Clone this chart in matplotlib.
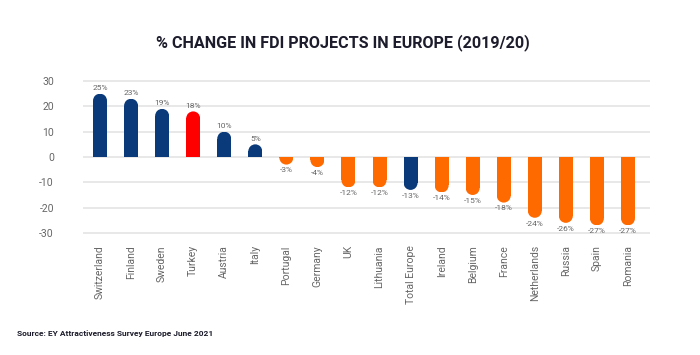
import matplotlib
matplotlib.use("Agg")
import matplotlib.pyplot as plt
from matplotlib.patches import Ellipse, Rectangle

plt.rcParams['font.family'] = ['Roboto', 'DejaVu Sans']

# 数据
countries = ["Switzerland", "Finland", "Sweden", "Turkey", "Austria", "Italy",
             "Portugal", "Germany", "UK", "Lithuania", "Total Europe", "Ireland",
             "Belgium", "France", "Netherlands", "Russia", "Spain", "Romania"]
changes = [25, 23, 19, 18, 10, 5, -3, -4, -12, -12, -13, -14, -15, -18, -24, -26, -27, -27]
labels = ["25%", "23%", "19%", "18%", "10%", "5%", "-3%", "-4%", "-12%", "-12%",
          "-13%", "-14%", "-15%", "-18%", "-24%", "-26%", "-27%", "-27%"]
yticks = [30, 20, 10, 0, -10, -20, -30]

NAVY = "#0b3a7a"
ORANGE = "#ff6a00"
RED = "#ff0000"

def bar_color(name, v):
    if name == "Turkey":
        return RED
    if name == "Total Europe" or v > 0:
        return NAVY
    return ORANGE

fig = plt.figure(figsize=(7, 3.55), dpi=100)
ax = fig.add_axes([0.1186, 0.3366, 0.81, 0.4423])
ax.set_xlim(-0.547, 17.71)
ax.set_ylim(-31, 31)

bw = 0.45
# 圆角半径换算成 y 数据单位
ax_w_px = 0.81 * 700
ax_h_px = 0.4423 * 355
r_px = bw * ax_w_px / (17.71 + 0.547) / 2
r_y = r_px * 62 / ax_h_px

for y in yticks:
    ax.axhline(y, color="#e4e4e4", lw=1.2, zorder=0)

for i, (name, v, lab) in enumerate(zip(countries, changes, labels)):
    c = bar_color(name, v)
    s = 1 if v > 0 else -1
    ry = min(r_y, abs(v))
    end = v - s * ry
    ax.bar(i, end, width=bw, color=c, zorder=2, linewidth=0)
    cap = Ellipse((i, end), bw, 2 * ry, color=c, zorder=2, linewidth=0)
    ax.add_patch(cap)
    # 只保留远离零线的一半
    clip = Rectangle((i - bw / 2, 0), bw, v, transform=ax.transData)
    cap.set_clip_path(clip)
    ax.annotate(lab, (i, v), xytext=(0, 2 * s), textcoords="offset points",
                ha="center", va="bottom" if s > 0 else "top",
                fontsize=6, color="#666666")

ax.set_xticks(range(len(countries)))
ax.set_xticklabels(countries, rotation=90, fontsize=7.5, color="#666666")
ax.set_yticks(yticks)
ax.set_yticklabels([str(t) for t in yticks], fontsize=7.5, color="#666666")
ax.tick_params(axis="both", length=0)
ax.tick_params(axis="y", pad=21)
ax.tick_params(axis="x", pad=7)
for sp in ax.spines.values():
    sp.set_visible(False)

fig.text(0.49, 0.88, "% CHANGE IN FDI PROJECTS IN EUROPE (2019/20)",
         ha="center", va="center", fontsize=11.6, fontweight="bold",
         color="#1c1c2c")
fig.text(0.024, 0.06, "Source: EY Attractiveness Survey Europe June 2021",
         ha="left", va="center", fontsize=6, fontweight="bold",
         color="#1c1c2c")

fig.savefig("out.png", dpi=100, facecolor="white")
